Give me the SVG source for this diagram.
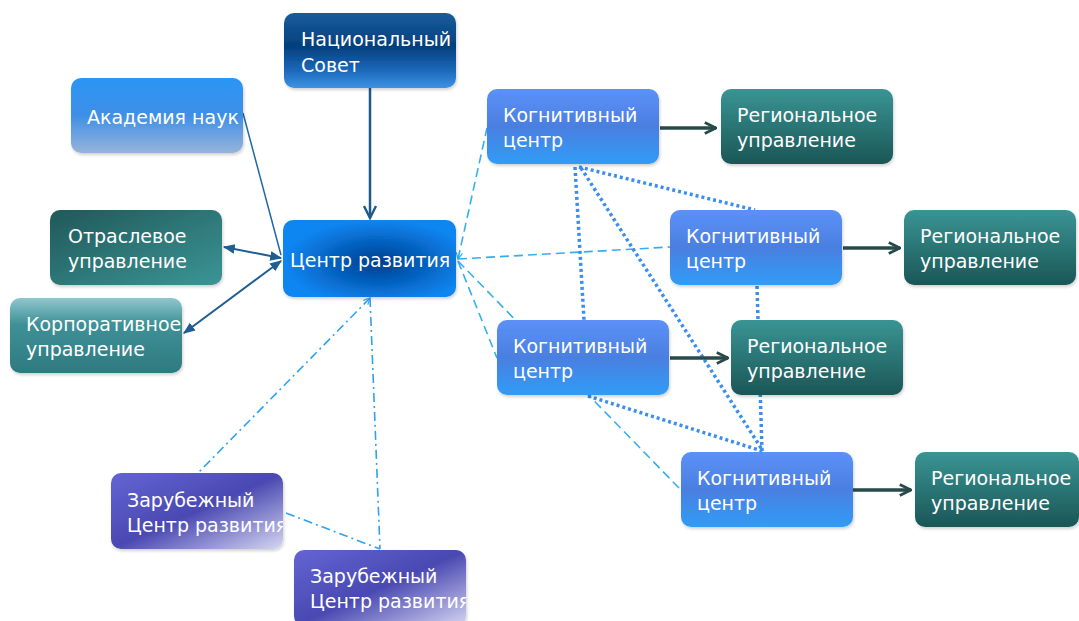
<svg xmlns="http://www.w3.org/2000/svg" width="1079" height="621" viewBox="0 0 1079 621">
<style>
  text { font-family: "DejaVu Sans", "Liberation Sans", sans-serif; font-size: 19px; fill: #ffffff; }
  .box { filter: url(#sh); }
  .dash { fill: none; stroke: #35aef0; stroke-width: 1.6; stroke-dasharray: 9 5; }
  .dot { fill: none; stroke: #3a8ef0; stroke-width: 3.5; stroke-dasharray: 3 3; }
  .dd { fill: none; stroke: #2ea2f0; stroke-width: 1.6; stroke-dasharray: 9 4 2 4; }
  .dark { fill: none; stroke: #274a4a; stroke-width: 3.5; marker-end: url(#chevDark); }
  .blue { fill: none; stroke: #1e5e92; stroke-width: 2; }
</style>
<defs>
  <filter id="sh" x="-10%" y="-10%" width="125%" height="130%">
    <feDropShadow dx="1" dy="2" stdDeviation="1.5" flood-color="#000" flood-opacity="0.18"/>
  </filter>
  <linearGradient id="gNat" x1="0" y1="0" x2="0" y2="1">
    <stop offset="0" stop-color="#195c9c"/>
    <stop offset="0.45" stop-color="#03407d"/>
    <stop offset="0.75" stop-color="#1b66b8"/>
    <stop offset="1" stop-color="#3d92e4"/>
  </linearGradient>
  <linearGradient id="gAkad" x1="0" y1="0" x2="0" y2="1">
    <stop offset="0" stop-color="#2a95f5"/>
    <stop offset="0.5" stop-color="#3f8fe6"/>
    <stop offset="1" stop-color="#96b4da"/>
  </linearGradient>
  <linearGradient id="gOtr" x1="0" y1="0" x2="1" y2="1">
    <stop offset="0" stop-color="#215859"/>
    <stop offset="1" stop-color="#3b9595"/>
  </linearGradient>
  <linearGradient id="gKorp" x1="0" y1="0" x2="0" y2="1">
    <stop offset="0" stop-color="#8fc7cd"/>
    <stop offset="0.35" stop-color="#3e9197"/>
    <stop offset="1" stop-color="#2e7a7f"/>
  </linearGradient>
  <radialGradient id="gCen" cx="0.55" cy="0.55" r="0.55">
    <stop offset="0" stop-color="#003d8a"/>
    <stop offset="0.3" stop-color="#0454ad"/>
    <stop offset="1" stop-color="#0a86f2"/>
  </radialGradient>
  <linearGradient id="gKog" x1="0" y1="0" x2="0" y2="1">
    <stop offset="0" stop-color="#5c91f8"/>
    <stop offset="0.5" stop-color="#4a7fe0"/>
    <stop offset="1" stop-color="#309cf7"/>
  </linearGradient>
  <linearGradient id="gReg" x1="0" y1="0" x2="0" y2="1">
    <stop offset="0" stop-color="#3a9494"/>
    <stop offset="1" stop-color="#1b5656"/>
  </linearGradient>
  <linearGradient id="gZar" x1="0" y1="0" x2="1" y2="1">
    <stop offset="0" stop-color="#6464d4"/>
    <stop offset="0.5" stop-color="#4a49b2"/>
    <stop offset="1" stop-color="#d6d6f2"/>
  </linearGradient>
  <marker id="chevDark" viewBox="0 0 10 10" refX="9" refY="5" markerWidth="4" markerHeight="4" orient="auto" markerUnits="strokeWidth">
    <path d="M1,1 L9,5 L1,9" fill="none" stroke="#274a4a" stroke-width="2"/>
  </marker>
  <marker id="chevNat" viewBox="0 0 10 10" refX="9" refY="5" markerWidth="6" markerHeight="6" orient="auto" markerUnits="strokeWidth">
    <path d="M1,1 L9,5 L1,9" fill="none" stroke="#1d5a8c" stroke-width="1.6"/>
  </marker>
  <marker id="triBlue" viewBox="0 0 10 10" refX="9" refY="5" markerWidth="6" markerHeight="6" orient="auto-start-reverse" markerUnits="strokeWidth">
    <path d="M0,1 L10,5 L0,9 Z" fill="#1e5e92"/>
  </marker>
  <marker id="chevLight" viewBox="0 0 10 10" refX="1" refY="5" markerWidth="5" markerHeight="5" orient="auto" markerUnits="strokeWidth">
    <path d="M9,1 L1,5 L9,9" fill="none" stroke="#35aef0" stroke-width="1.5"/>
  </marker>
  <clipPath id="cZar1"><rect x="111" y="473" width="172" height="76" rx="10"/></clipPath>
  <clipPath id="cZar2"><rect x="294" y="550" width="172" height="76" rx="10"/></clipPath>
</defs>

<g id="connectors">
  <path class="dash" d="M458,259 L487,128" marker-start="url(#chevLight)"/>
  <path class="dash" d="M458,259 L670,247"/>
  <path class="dash" d="M458,261 L497,358"/>
  <path class="dash" d="M458,261 L679,488"/>
  <path class="dot" d="M575,167 L584,320"/>
  <path class="dot" d="M579,167 L755,210"/>
  <path class="dot" d="M581,168 L763,451"/>
  <path class="dot" d="M757,286 L762,451"/>
  <path class="dot" d="M588,396 L762,451"/>
  <path class="dd" d="M370,298 L198,473" marker-start="url(#chevLight)"/>
  <path class="dd" d="M370,298 L380,549"/>
  <path class="dd" d="M286,513 L380,549"/>
  <path d="M370,88 L370,218" fill="none" stroke="#1d5a8c" stroke-width="2.5" marker-end="url(#chevNat)"/>
  <path d="M243,113 L281,255" fill="none" stroke="#2068a5" stroke-width="1.5"/>
  <path class="blue" d="M224,247 L281,258" marker-start="url(#triBlue)" marker-end="url(#triBlue)"/>
  <path class="blue" d="M281,261 L184,333" marker-start="url(#triBlue)" marker-end="url(#triBlue)"/>
  <path class="dark" d="M660,128 L716,128"/>
  <path class="dark" d="M843,248 L900,248"/>
  <path class="dark" d="M670,358 L728,358"/>
  <path class="dark" d="M853,490 L911,490"/>
</g>

<g id="nat">
  <rect class="box" x="284" y="13" width="172" height="75" rx="10" fill="url(#gNat)"/>
  <text x="301" y="46">Национальный</text>
  <text x="301" y="72">Совет</text>
</g>
<g id="akad">
  <rect class="box" x="71" y="78" width="172" height="75" rx="10" fill="url(#gAkad)"/>
  <text x="87" y="124">Академия наук</text>
</g>
<g id="otrasl">
  <rect class="box" x="50" y="210" width="172" height="75" rx="10" fill="url(#gOtr)"/>
  <text x="68" y="243">Отраслевое</text>
  <text x="68" y="268">управление</text>
</g>
<g id="korp">
  <rect class="box" x="10" y="298" width="172" height="75" rx="10" fill="url(#gKorp)"/>
  <text x="26" y="331">Корпоративное</text>
  <text x="26" y="356">управление</text>
</g>
<g id="center">
  <rect class="box" x="283" y="220" width="173" height="77" rx="10" fill="url(#gCen)"/>
  <text x="290" y="267">Центр развития</text>
</g>
<g id="kog1">
  <rect class="box" x="487" y="89" width="172" height="75" rx="10" fill="url(#gKog)"/>
  <text x="503" y="122">Когнитивный</text>
  <text x="503" y="147">центр</text>
</g>
<g id="reg1">
  <rect class="box" x="721" y="89" width="172" height="75" rx="10" fill="url(#gReg)"/>
  <text x="737" y="122">Региональное</text>
  <text x="737" y="147">управление</text>
</g>
<g id="kog2">
  <rect class="box" x="670" y="210" width="172" height="75" rx="10" fill="url(#gKog)"/>
  <text x="686" y="243">Когнитивный</text>
  <text x="686" y="268">центр</text>
</g>
<g id="reg2">
  <rect class="box" x="904" y="210" width="172" height="75" rx="10" fill="url(#gReg)"/>
  <text x="920" y="243">Региональное</text>
  <text x="920" y="268">управление</text>
</g>
<g id="kog3">
  <rect class="box" x="497" y="320" width="172" height="75" rx="10" fill="url(#gKog)"/>
  <text x="513" y="353">Когнитивный</text>
  <text x="513" y="378">центр</text>
</g>
<g id="reg3">
  <rect class="box" x="731" y="320" width="172" height="75" rx="10" fill="url(#gReg)"/>
  <text x="747" y="353">Региональное</text>
  <text x="747" y="378">управление</text>
</g>
<g id="kog4">
  <rect class="box" x="681" y="452" width="172" height="75" rx="10" fill="url(#gKog)"/>
  <text x="697" y="485">Когнитивный</text>
  <text x="697" y="510">центр</text>
</g>
<g id="reg4">
  <rect class="box" x="915" y="452" width="164" height="75" rx="10" fill="url(#gReg)"/>
  <text x="931" y="485">Региональное</text>
  <text x="931" y="510">управление</text>
</g>
<g id="zar1">
  <rect class="box" x="111" y="473" width="172" height="76" rx="10" fill="url(#gZar)"/>
  <g clip-path="url(#cZar1)">
    <text x="127" y="507">Зарубежный</text>
    <text x="127" y="532">Центр развития</text>
  </g>
</g>
<g id="zar2">
  <rect class="box" x="294" y="550" width="172" height="76" rx="10" fill="url(#gZar)"/>
  <g clip-path="url(#cZar2)">
    <text x="310" y="583">Зарубежный</text>
    <text x="310" y="608">Центр развития</text>
  </g>
</g>
</svg>
